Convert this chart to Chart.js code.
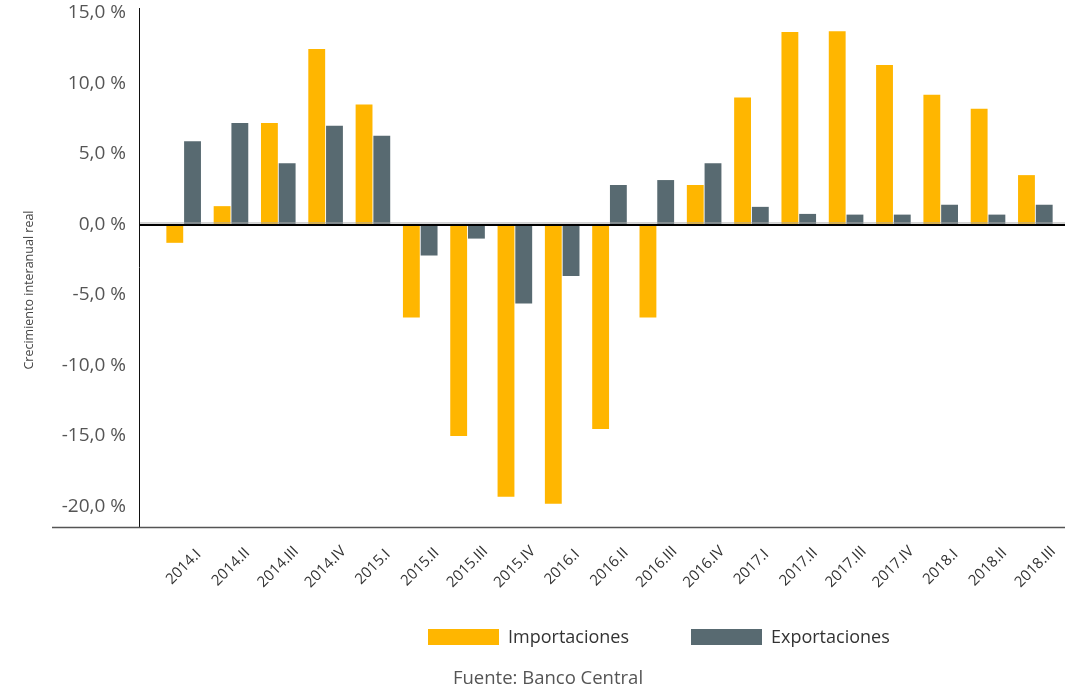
<!DOCTYPE html>
<html>
<head>
<meta charset="utf-8">
<script src="https://cdn.jsdelivr.net/npm/chart.js@4"></script>
<style>
    html, body { margin: 0; padding: 0; background: #fff; }
    #wrap { width: 1070px; height: 691px; }
</style>
</head>
<body>
<div id="wrap"><canvas id="tradeChart"></canvas></div>
<script>
const quarters = ["2014.I", "2014.II", "2014.III", "2014.IV", "2015.I", "2015.II", "2015.III", "2015.IV",
    "2016.I", "2016.II", "2016.III", "2016.IV", "2017.I", "2017.II", "2017.III", "2017.IV",
    "2018.I", "2018.II", "2018.III"]
const importaciones = [-1.3, 1.3, 7.2, 12.45, 8.5, -6.6, -15.0, -19.3, -19.8, -14.5, -6.6, 2.8,
    9.0, 13.65, 13.7, 11.3, 9.2, 8.2, 3.5]
const exportaciones = [5.9, 7.2, 4.35, 7.0, 6.3, -2.2, -1.0, -5.6, -3.65, 2.8, 3.15, 4.35,
    1.25, 0.75, 0.7, 0.7, 1.4, 0.7, 1.4]
const yTicks = [-20, -15, -10, -5, 0, 5, 10, 15]
const legendX = [428, 691]
const fuente = "Fuente: Banco Central"

const FONT = "'Open Sans'"

function formatPct(v) {
    return v.toFixed(1).replace(".", ",") + " %"
}

// axis lines, zero line, centred rotated x labels, vertical title, legend and source note
const extras = {
    id: "extras",
    afterDatasetsDraw(chart) {
        const ctx = chart.ctx
        const area = chart.chartArea
        const xs = chart.scales.x
        const y0 = chart.scales.y.getPixelForValue(0)
        ctx.save()
        ctx.strokeStyle = "#aaa"
        ctx.lineWidth = 1
        ctx.beginPath()
        ctx.moveTo(area.left - 21, y0 - 1.5)
        ctx.lineTo(area.right + 6, y0 - 1.5)
        ctx.stroke()
        ctx.strokeStyle = "#000"
        ctx.lineWidth = 2
        ctx.beginPath()
        ctx.moveTo(area.left - 21, y0 + 0.5)
        ctx.lineTo(area.right + 6, y0 + 0.5)
        ctx.stroke()

        ctx.strokeStyle = "#111"
        ctx.lineWidth = 1
        ctx.beginPath()
        ctx.moveTo(area.left - 20.5, area.top)
        ctx.lineTo(area.left - 20.5, area.bottom)
        ctx.stroke()

        ctx.strokeStyle = "#555"
        ctx.lineWidth = 1.5
        ctx.beginPath()
        ctx.moveTo(52, area.bottom + 0.5)
        ctx.lineTo(area.right + 6, area.bottom + 0.5)
        ctx.stroke()

        // x labels, centred under each category
        ctx.fillStyle = "#333"
        ctx.font = "15px " + FONT
        ctx.textAlign = "center"
        ctx.textBaseline = "middle"
        quarters.forEach((q, i) => {
            ctx.save()
            ctx.translate(xs.getPixelForTick(i), area.bottom + 40)
            ctx.rotate(-Math.PI / 4)
            ctx.fillText(q, 0, 0)
            ctx.restore()
        })

        // legend
        ctx.textAlign = "left"
        ctx.font = "18px " + FONT
        chart.data.datasets.forEach((ds, i) => {
            ctx.fillStyle = ds.backgroundColor
            ctx.fillRect(legendX[i], 629, 71, 16)
            ctx.fillStyle = "#333"
            ctx.fillText(ds.label, legendX[i] + 80, 638)
        })

        ctx.fillStyle = "#555"
        ctx.font = "18.5px " + FONT
        ctx.textAlign = "center"
        ctx.fillText(fuente, 548, 679)

        ctx.translate(29, 290)
        ctx.rotate(-Math.PI / 2)
        ctx.fillStyle = "#444"
        ctx.font = "12.5px " + FONT
        ctx.fillText("Crecimiento interanual real", 0, 0)
        ctx.restore()
    }
}

new Chart(document.getElementById("tradeChart").getContext("2d"), {
    type: "bar",
    data: {
        labels: quarters,
        datasets: [
            { label: "Importaciones", data: importaciones, backgroundColor: "#FFB600" },
            { label: "Exportaciones", data: exportaciones, backgroundColor: "#586A71" }
        ]
    },
    options: {
        responsive: true,
        maintainAspectRatio: false,
        animation: false,
        layout: { padding: { top: 8, right: 11, left: 0, bottom: 84 } },
        datasets: { bar: { categoryPercentage: 0.75, barPercentage: 0.95 } },
        scales: {
            x: {
                afterFit: (axis) => { axis.height = 80; axis.paddingLeft = 0; axis.paddingRight = 0 },
                grid: { display: false, drawTicks: false },
                border: { display: false },
                ticks: { display: false }
            },
            y: {
                min: -21.45,
                max: 15.35,
                afterBuildTicks: (axis) => { axis.ticks = yTicks.map(v => ({ value: v })) },
                afterFit: (axis) => { axis.width = 160; axis.paddingTop = 0; axis.paddingBottom = 0 },
                grid: { display: false, drawTicks: false },
                border: { display: false },
                ticks: {
                    color: "#555",
                    padding: 34,
                    font: { family: FONT, size: 19 },
                    callback: (v) => formatPct(v)
                }
            }
        },
        plugins: {
            tooltip: { enabled: false },
            legend: { display: false }
        }
    },
    plugins: [extras]
})
</script>
</body>
</html>
